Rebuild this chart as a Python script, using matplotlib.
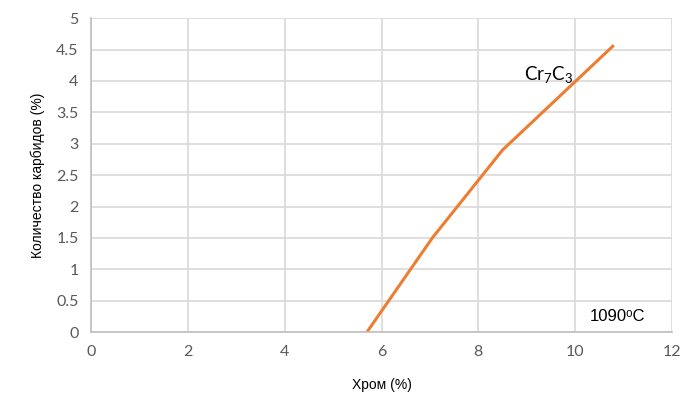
import matplotlib.pyplot as plt

plt.rcParams['mathtext.fontset'] = 'custom'
plt.rcParams['mathtext.rm'] = 'Lato'
plt.rcParams['mathtext.it'] = 'Lato:italic'

# data
chrom = [5.7, 7.05, 8.5, 10.8]
carbides = [0.0, 1.5, 2.9, 4.57]
x_ticks = [0, 2, 4, 6, 8, 10, 12]
y_ticks = [0, 0.5, 1, 1.5, 2, 2.5, 3, 3.5, 4, 4.5, 5]
y_labels = ['0', '0.5', '1', '1.5', '2', '2.5', '3', '3.5', '4', '4.5', '5']

fig = plt.figure(figsize=(7, 4.13), dpi=100)
ax = fig.add_axes([0.13, 0.196, 0.83, 0.76])

ax.plot(chrom, carbides, color='#ED7D31', linewidth=2.2, solid_capstyle='butt')

ax.set_xlim(0, 12)
ax.set_ylim(0, 5)
ax.set_xticks(x_ticks)
ax.set_yticks(y_ticks)
ax.set_yticklabels(y_labels)
ax.grid(True, color='#d9d9d9', linewidth=1.2)
ax.set_axisbelow(True)

for s in ['top', 'right']:
    ax.spines[s].set_visible(False)
for s in ['left', 'bottom']:
    ax.spines[s].set_color('#bfbfbf')
    ax.spines[s].set_linewidth(1.2)

ax.tick_params(axis='both', length=0, labelsize=11.5, labelcolor='#595959', pad=9)
for lbl in ax.get_xticklabels() + ax.get_yticklabels():
    lbl.set_family('Lato')

ax.set_xlabel('Хром (%)', fontsize=10, family='Liberation Sans', labelpad=14)
ax.set_ylabel('Количество карбидов (%)', fontsize=10, family='Liberation Sans', labelpad=8)

ax.text(9.45, 4.1, r'$\mathrm{Cr}_7\mathrm{C}_3$', fontsize=13.5, ha='center', va='center')
ax.text(10.87, 0.24, '1090ᵒC', fontsize=12, family=['Liberation Sans', 'DejaVu Sans'],
        ha='center', va='center')

fig.savefig('out.png', dpi=100)
